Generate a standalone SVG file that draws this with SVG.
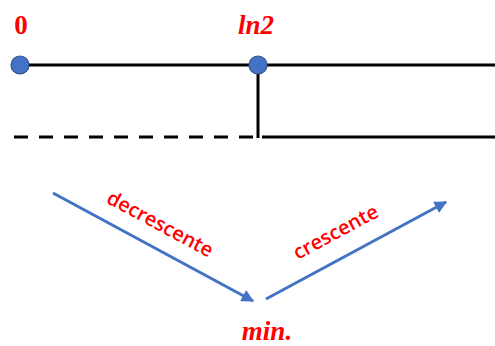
<svg xmlns="http://www.w3.org/2000/svg" width="495" height="346" viewBox="0 0 495 346">
<style>
.ln{stroke:#000;stroke-width:3;fill:none}
.ar{stroke:#4472C4;stroke-width:3;fill:none}
.pt{fill:#4472C4;stroke:#2F528F;stroke-width:1.2}
.lab{fill:#FF0000;font-family:"Liberation Serif","DejaVu Serif",serif;font-weight:bold;font-size:27px}
.it{font-style:italic}
.rt{fill:#FF0000;font-family:"Open Sans","Liberation Sans",sans-serif;font-weight:600;font-size:20px}
</style>
<defs>
<marker id="ah" viewBox="0 0 10 10" refX="9" refY="5" markerWidth="4.2" markerHeight="4.2" orient="auto" markerUnits="strokeWidth">
<path d="M0,0 L10,5 L0,10 z" fill="#4472C4"/>
</marker>
</defs>
<g id="connectors">
<line class="ln" x1="20" y1="65" x2="495" y2="65"/>
<line class="ln" x1="258" y1="65" x2="258" y2="138"/>
<polyline class="ln" points="14,137 256,137 258,137" stroke-dasharray="14 11"/>
<line class="ln" x1="262" y1="137" x2="495" y2="137"/>
<line class="ar" x1="53" y1="193" x2="253" y2="301" marker-end="url(#ah)"/>
<line class="ar" x1="266" y1="299" x2="446" y2="202" marker-end="url(#ah)"/>
</g>
<g id="node-0">
<circle class="pt" cx="20" cy="65" r="9"/>
<text class="lab" x="21" y="34" text-anchor="middle">0</text>
</g>
<g id="node-ln2">
<circle class="pt" cx="258" cy="65" r="9"/>
<text class="lab it" x="256" y="34" text-anchor="middle">ln2</text>
</g>
<g id="label-decrescente">
<text class="rt" x="157" y="230" text-anchor="middle" transform="rotate(28.3 157 230)">decrescente</text>
</g>
<g id="label-crescente">
<text class="rt" x="339" y="238" text-anchor="middle" transform="rotate(-28.2 339 238)">crescente</text>
</g>
<g id="node-min">
<text class="lab it" x="267" y="340" text-anchor="middle">min.</text>
</g>
</svg>
